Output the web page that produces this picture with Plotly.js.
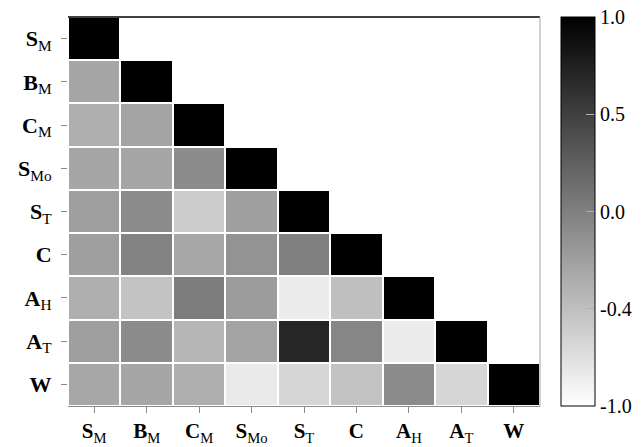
<!DOCTYPE html>
<html>
<head>
<meta charset="utf-8">
<script src="https://cdn.plot.ly/plotly-3.0.1.min.js"></script>
<style>html,body{margin:0;padding:0;background:#fff;}#chart{width:644px;height:447px;}</style>
</head>
<body>
<div id="chart"></div>
<script>
// Variable labels (rows top->bottom, columns left->right)
const labels = ['<b>S</b><sub>M</sub>','<b>B</b><sub>M</sub>','<b>C</b><sub>M</sub>','<b>S</b><sub>Mo</sub>','<b>S</b><sub>T</sub>','<b>C</b>','<b>A</b><sub>H</sub>','<b>A</b><sub>T</sub>','<b>W</b>'];

// Lower-triangular correlation values, one array per row
const rowSM  = [1.00];
const rowBM  = [-0.24, 1.00];
const rowCM  = [-0.30, -0.22, 1.00];
const rowSMo = [-0.24, -0.24, -0.08, 1.00];
const rowST  = [-0.20, -0.07, -0.52, -0.20, 1.00];
const rowC   = [-0.20, -0.02, -0.25, -0.12, 0.00, 1.00];
const rowAH  = [-0.30, -0.44, 0.03, -0.18, -0.82, -0.41, 1.00];
const rowAT  = [-0.20, -0.08, -0.34, -0.22, 0.70, -0.04, -0.82, 1.00];
const rowW   = [-0.25, -0.24, -0.30, -0.80, -0.61, -0.43, -0.07, -0.61, 1.00];

// Colorbar tick labels and where the colour scale places them
const cbarTickValues = [-1.0, -0.4, 0.0, 0.5, 1.0];
const cbarTickText   = ['-1.0', '-0.4', '0.0', '0.5', '1.0'];
const cbarPositions  = [-1.0, -0.5, 0.0, 0.5, 1.0];

const rows = [rowSM, rowBM, rowCM, rowSMo, rowST, rowC, rowAH, rowAT, rowW];
const n = labels.length;

// piecewise-linear colour normalisation (value -> scale position)
function norm(v){
  for (let i = 0; i < cbarTickValues.length - 1; i++){
    const a = cbarTickValues[i], b = cbarTickValues[i+1];
    if (v >= a && v <= b){
      const t = (v - a) / (b - a);
      return cbarPositions[i] + t * (cbarPositions[i+1] - cbarPositions[i]);
    }
  }
  return v;
}

const idx = labels.map((_, i) => i);
const z = rows.map(r => idx.map(j => j < r.length ? norm(r[j]) : null));
const custom = rows.map(r => idx.map(j => j < r.length ? r[j] : null));

const serif = 'Liberation Serif';

const trace = {
  type: 'heatmap',
  x: idx, y: idx, z: z, customdata: custom,
  zmin: -1, zmax: 1,
  colorscale: [[0, '#ffffff'], [1, '#000000']],
  xgap: 2, ygap: 2,
  hoverongaps: false,
  colorbar: {
    x: 1.0445, xanchor: 'left', xpad: 0,
    y: 0.5, yanchor: 'middle', len: 1.0, ypad: 0,
    thickness: 34,
    outlinewidth: 1, outlinecolor: '#000',
    tickvals: cbarPositions, ticktext: cbarTickText,
    ticks: 'inside', ticklen: 9, tickcolor: '#b0b0b0', tickwidth: 1,
    tickfont: {family: serif, size: 20, color: '#000'}
  }
};

const layout = {
  width: 644, height: 447,
  margin: {l: 68, r: 104, t: 17, b: 41, autoexpand: false},
  paper_bgcolor: '#fff', plot_bgcolor: '#fff',
  xaxis: {
    tickvals: idx, ticktext: labels, range: [-0.5, n - 0.5],
    showgrid: false, zeroline: false,
    showline: true, linecolor: '#8a8a8a', linewidth: 1, mirror: false,
    ticks: 'outside', ticklen: 6, tickcolor: '#8a8a8a',
    ticklabelstandoff: 0,
    tickfont: {family: serif, size: 21, color: '#000'}
  },
  yaxis: {
    tickvals: idx, ticktext: labels, range: [n - 0.5, -0.5],
    showgrid: false, zeroline: false, showline: false,
    ticks: 'outside', ticklen: 6, tickcolor: '#8a8a8a',
    ticklabelstandoff: 5,
    tickfont: {family: serif, size: 22, color: '#000'}
  },
  shapes: [
    {type: 'line', xref: 'paper', yref: 'paper', x0: 0, x1: 1, y0: 1, y1: 1, line: {color: '#000', width: 1.5}, layer: 'below'},
    {type: 'line', xref: 'paper', yref: 'paper', x0: 1, x1: 1, y0: 0, y1: 1, line: {color: '#c0c0c0', width: 1.5}}
  ],
  showlegend: false
};

Plotly.newPlot('chart', [trace], layout, {displayModeBar: false, staticPlot: true});
</script>
</body>
</html>
